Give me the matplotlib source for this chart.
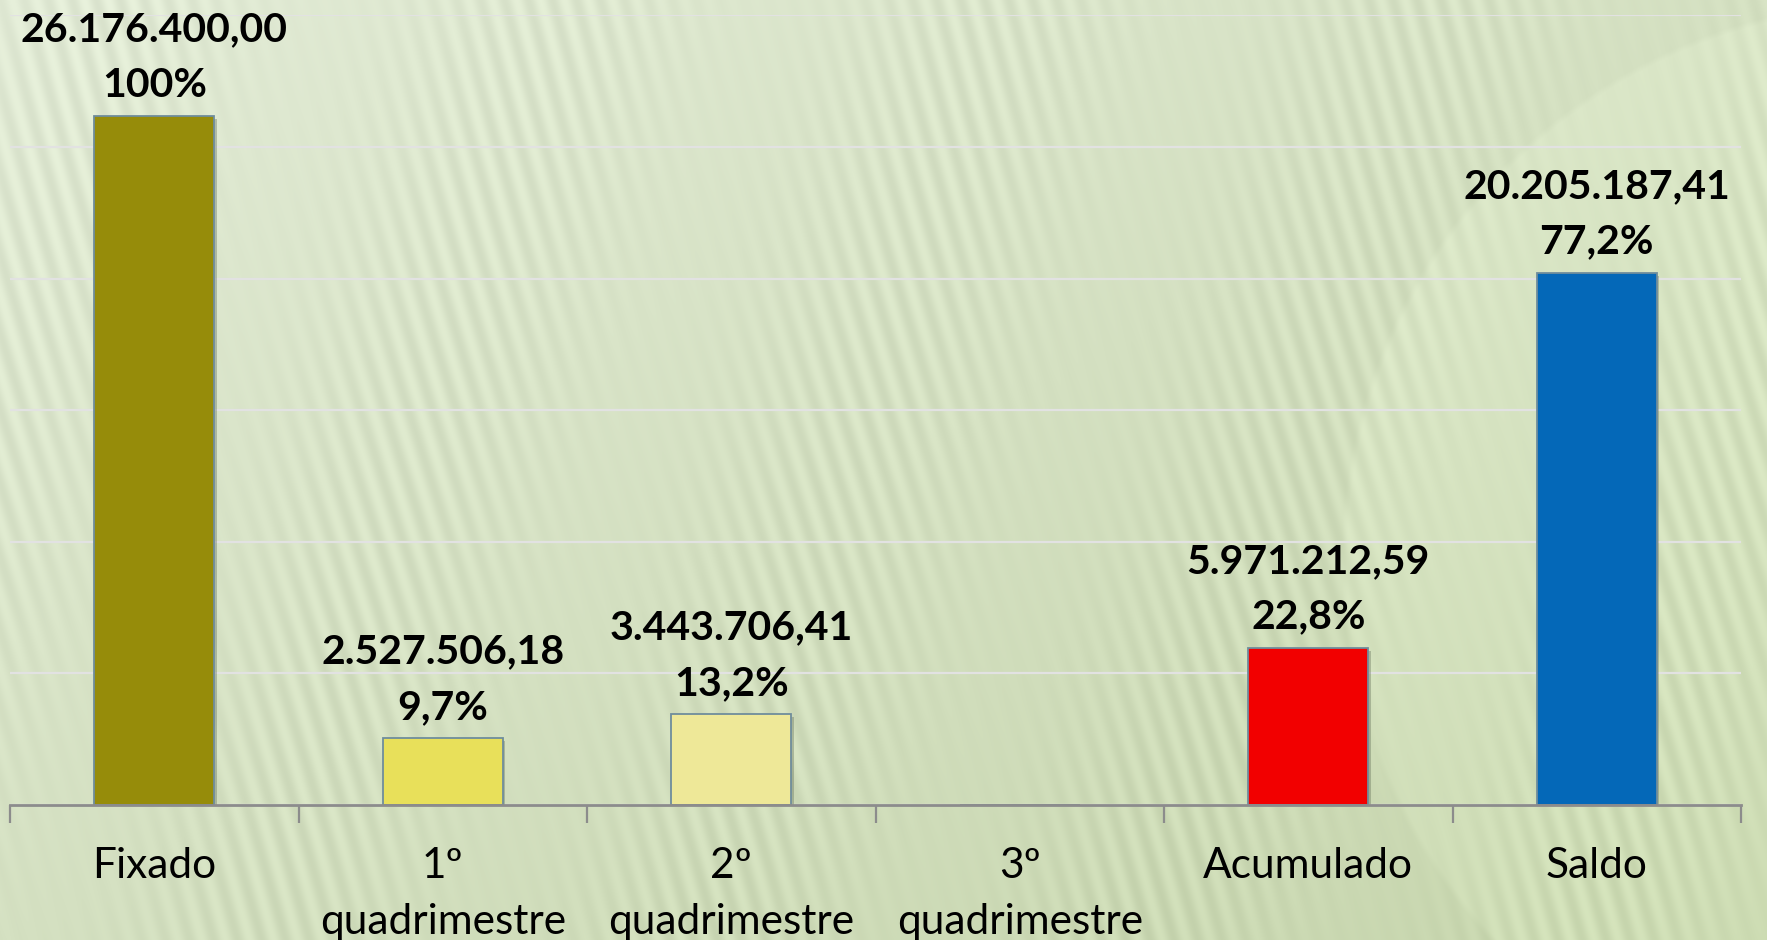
import numpy as np
import matplotlib
matplotlib.use("Agg")
import matplotlib.pyplot as plt
import matplotlib.patheffects as pe

# ---- data ----
categories = ["Fixado", "1º\nquadrimestre", "2º\nquadrimestre", "3º\nquadrimestre", "Acumulado", "Saldo"]
values = [26176400.00, 2527506.18, 3443706.41, 0.0, 5971212.59, 20205187.41]
value_labels = ["26.176.400,00", "2.527.506,18", "3.443.706,41", "", "5.971.212,59", "20.205.187,41"]
pct_labels = ["100%", "9,7%", "13,2%", "", "22,8%", "77,2%"]
bar_colors = ["#968C0A", "#E8E05A", "#EEE898", "#DDDDDD", "#F20000", "#0468B8"]

W, H, DPI = 1767, 940, 100
plt.rcParams['font.family'] = ['Lato', 'DejaVu Sans']

fig = plt.figure(figsize=(W / DPI, H / DPI), dpi=DPI)

# ---- background texture ----
bg = fig.add_axes([0, 0, 1, 1], zorder=0)
yy, xx = np.mgrid[0:H, 0:W].astype(float)
t = (xx / W) * 0.5 + (yy / H) * 0.5
top = np.array([226, 235, 214]) / 255.0
bot = np.array([198, 213, 172]) / 255.0
img = top[None, None, :] * (1 - t[..., None]) + bot[None, None, :] * t[..., None]
phase = (xx + 0.30 * (H - yy)) / 24.0
stripe = 0.5 + 0.5 * np.sin(2 * np.pi * phase + 1.2 * np.sin(yy / 170.0))
mod = 0.55 + 0.45 * np.sin(xx / 70.0 + yy / 230.0)
img = img + (stripe[..., None] - 0.5) * 0.06 * mod[..., None]
# faint lighter disk on the right
cx, cy, r = 1900, 560, 560
d = np.sqrt((xx - cx) ** 2 + (yy - cy) ** 2)
disk = np.clip((r - d) / 6.0, 0, 1)
img = img + disk[..., None] * 0.025
img = np.clip(img, 0, 1)
bg.imshow(img, aspect='auto', extent=[0, W, H, 0], interpolation='bilinear')
bg.set_axis_off()

# ---- chart ----
ax = fig.add_axes([10 / W, 1 - 805 / H, (1741 - 10) / W, (805 - 15.4) / H], zorder=1)
ax.patch.set_alpha(0)
x = np.arange(len(categories))
bars = ax.bar(x, values, width=0.415, color=bar_colors, edgecolor="#6F8D9C",
              linewidth=1.3, zorder=3)
for b in bars:
    b.set_path_effects([pe.SimplePatchShadow(offset=(2, -2), shadow_rgbFace="#5A6650", alpha=0.35),
                        pe.Normal()])
ax.set_xlim(-0.5, len(categories) - 0.5)
ax.set_ylim(0, 30000000)
ax.set_yticks(np.arange(0, 30000001, 5000000))
ax.yaxis.grid(True, color="#E2E2E2", linewidth=1.6, zorder=1)
ax.tick_params(axis='y', left=False, labelleft=False)
for s in ["top", "right", "left"]:
    ax.spines[s].set_visible(False)
ax.spines["bottom"].set_color("#8C8C8C")
ax.spines["bottom"].set_linewidth(2)
ax.spines["bottom"].set_zorder(4)

ax.set_xticks(x)
ax.set_xticklabels(categories, fontsize=30.5, color="black", linespacing=1.6)
ax.tick_params(axis='x', length=0, pad=30)
ax.set_xticks(np.arange(-0.5, len(categories), 1.0), minor=True)
ax.tick_params(axis='x', which='minor', length=13, width=1.6, color="#8C8C8C")

for b, vl, pl, v in zip(bars, value_labels, pct_labels, values):
    if not vl:
        continue
    ax.annotate(vl + "\n" + pl, (b.get_x() + b.get_width() / 2, v),
                xytext=(0, 9), textcoords="offset points",
                ha="center", va="bottom", fontsize=29.5, fontweight="bold",
                linespacing=1.62, annotation_clip=False, zorder=5)

fig.savefig("out.png", dpi=DPI)
